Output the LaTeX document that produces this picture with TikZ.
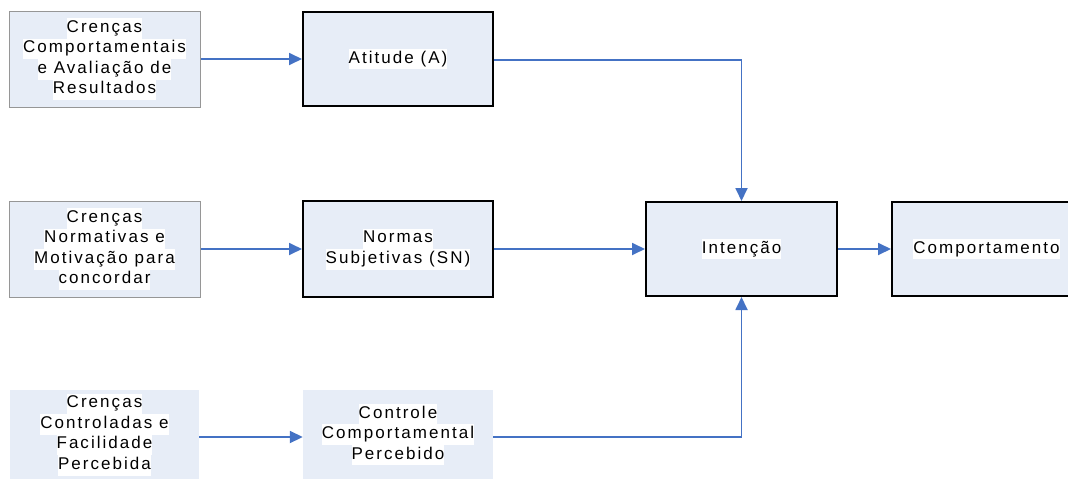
\documentclass[tikz,border=0pt]{standalone}
\usepackage{fontspec}
\setmainfont{Liberation Sans}[LetterSpace=12]
\usetikzlibrary{arrows.meta}
\definecolor{boxfill}{RGB}{231,237,247}
\definecolor{arrowblue}{RGB}{68,114,196}
\definecolor{lightborder}{RGB}{150,150,150}
\newcommand\wl[1]{{\setlength{\fboxsep}{0pt}\colorbox{white}{\strut #1}}}
\tikzset{
  base/.style={rectangle, fill=boxfill, align=center, inner sep=0pt,
    font=\fontsize{17}{20.5}\selectfont, text=black},
  leftbox/.style={base, draw=lightborder, line width=1pt, minimum width=191pt, minimum height=96pt},
  midbox/.style={base, draw=black, line width=2pt, minimum width=190pt, minimum height=95pt},
  plainbox/.style={base, minimum width=190pt, minimum height=89pt},
  conn/.style={draw=arrowblue, line width=1.8pt, -{Triangle[length=13pt,width=12pt]}}
}
\begin{document}
\begin{tikzpicture}[x=1pt,y=-1pt]
\useasboundingbox (0,0) rectangle (1068,479);
\clip (0,0) rectangle (1068,479);
\node[leftbox] (cb) at (104.5,59) {\wl{Crenças}\\\wl{Comportamentais}\\\wl{e Avaliação de}\\\wl{Resultados}};
\node[midbox, minimum height=94pt] (att) at (398,59) {\wl{Atitude (A)}};
\node[leftbox] (cn) at (104.5,249) {\wl{Crenças}\\\wl{Normativas e}\\\wl{Motivação para}\\\wl{concordar}};
\node[midbox, minimum height=96pt] (sn) at (398,249) {\wl{Normas}\\\wl{Subjetivas (SN)}};
\node[plainbox, minimum width=189pt] (cc) at (104.5,434.5) {\wl{Crenças}\\\wl{Controladas e}\\\wl{Facilidade}\\\wl{Percebida}};
\node[plainbox] (pbc) at (398,434.5) {\wl{Controle}\\\wl{Comportamental}\\\wl{Percebido}};
\node[midbox, minimum width=191pt, minimum height=94pt] (int) at (741.5,249) {\wl{Intenção}};
\node[midbox, minimum width=183pt, minimum height=94pt, text width=183pt] (beh) at (983.5,249) {\hspace*{6pt}\wl{Comportamento}};
\draw[conn] (cb.east) -- (att.west);
\draw[conn] (cn.east) -- (sn.west);
\draw[conn] (cc.east |- 0,437) -- (pbc.west |- 0,437);
\draw[conn] (att.east |- 0,60) -| (int.north);
\draw[conn] (sn.east) -- (int.west);
\draw[conn] (pbc.east |- 0,437) -| (int.south);
\draw[conn] (int.east) -- (beh.west);
\end{tikzpicture}
\end{document}
